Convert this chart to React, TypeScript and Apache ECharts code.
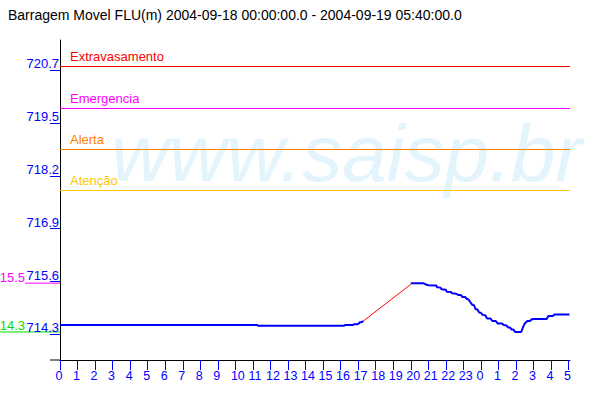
import React, { useEffect, useRef } from "react";
import * as echarts from "echarts";

const TITLE = "Barragem Movel FLU(m) 2004-09-18 00:00:00.0 - 2004-09-19 05:40:00.0";
const WATERMARK = "www.saisp.br";
const FONT = "'Liberation Sans', Arial, sans-serif";

// x axis: hours since 2004-09-18 00:00, labelled by hour of day
const hourTickLabels = [
  "0", "1", "2", "3", "4", "5", "6", "7", "8", "9", "10", "11", "12", "13", "14",
  "15", "16", "17", "18", "19", "20", "21", "22", "23", "0", "1", "2", "3", "4", "5",
];
// y axis ticks (labels as printed in the original, truncated)
const levelTickValues = [714.3, 715.6, 716.9, 718.2, 719.5, 720.8];
const levelTickLabels = ["714.3", "715.6", "716.9", "718.2", "719.5", "720.7"];

// threshold levels
const thresholdNames = ["Extravasamento", "Emergencia", "Alerta", "Atenção"];
const thresholdLevels = [720.89, 719.86, 718.86, 717.84];
const thresholdColors = ["#ff0000", "#ff00ff", "#ff8000", "#ffc800"];

// measured level before the data gap
const beforeHours = [0, 11.25, 11.3, 16.2, 16.25, 16.7, 16.75, 16.95, 17.05, 17.1, 17.2, 17.3];
const beforeLevels = [714.53, 714.53, 714.51, 714.51, 714.53, 714.53, 714.55, 714.55, 714.57, 714.6, 714.6, 714.63];

// interpolated (missing data) segment
const gapHours = [17.3, 20.0];
const gapLevels = [714.63, 715.53];

// measured level after the data gap
const afterHours = [
  20.0, 20.7, 20.8, 21.0, 21.45, 21.5, 21.7, 21.75, 22.0, 22.05, 22.3, 22.35, 22.6, 22.7,
  22.85, 22.95, 23.1, 23.2, 23.3, 23.4, 23.5, 23.6, 23.7, 23.8, 23.9, 24.0, 24.1, 24.25,
  24.35, 24.55, 24.65, 24.85, 24.95, 25.2, 25.3, 25.45, 25.55, 25.65, 25.75, 25.85, 25.95,
  26.3, 26.4, 26.5, 26.65, 26.8, 26.9, 27.05, 27.75, 27.85, 28.1, 28.2, 29.05,
];
const afterLevels = [
  715.56, 715.56, 715.54, 715.51, 715.5, 715.46, 715.45, 715.41, 715.4, 715.35, 715.34, 715.31, 715.3, 715.27,
  715.27, 715.22, 715.22, 715.17, 715.16, 715.09, 715.03, 715.02, 714.92, 714.91, 714.84, 714.83, 714.78, 714.77,
  714.69, 714.69, 714.63, 714.63, 714.57, 714.57, 714.53, 714.52, 714.47, 714.47, 714.42, 714.42, 714.36,
  714.36, 714.47, 714.57, 714.63, 714.63, 714.67, 714.68, 714.68, 714.75, 714.75, 714.79, 714.79,
];

const Y_MIN = 713.67;
const Y_MAX = 721.54;
const X_MAX = 29.08;

const zip = (xs: number[], ys: number[]) => xs.map((x, i) => [x, ys[i]]);

export default function App() {
  const ref = useRef<HTMLDivElement>(null);

  useEffect(() => {
    document.body.style.margin = "0";
    if (!ref.current) return;
    const chart = echarts.init(ref.current, undefined, { renderer: "svg" });

    const blue = "#0000ff";
    chart.setOption({
      animation: false,
      backgroundColor: "#ffffff",
      textStyle: { fontFamily: FONT },
      title: {
        text: TITLE,
        left: 3,
        top: 3,
        textStyle: { fontSize: 14, fontWeight: "normal", color: "#000000", fontFamily: FONT },
      },
      grid: { left: 60, right: 30, top: 40, bottom: 40, containLabel: false, outerBoundsMode: "none" },
      xAxis: {
        type: "value",
        min: 0,
        max: X_MAX,
        axisLine: { show: true, lineStyle: { color: "#000000", width: 1 } },
        axisTick: {
          show: true,
          length: 10,
          lineStyle: { color: blue, width: 1 },
          customValues: hourTickLabels.map((_, i) => i),
        },
        axisLabel: {
          customValues: hourTickLabels.map((_, i) => i),
          formatter: (v: number) => hourTickLabels[Math.round(v)] ?? "",
          color: blue,
          fontSize: 12.5,
          fontFamily: FONT,
          margin: 9,
          align: "left",
          padding: [0, 0, 0, -4.5],
          interval: 0,
          hideOverlap: false,
        },
        splitLine: { show: false },
      },
      yAxis: {
        type: "value",
        min: Y_MIN,
        max: Y_MAX,
        axisLine: { show: true, lineStyle: { color: "#000000", width: 1 } },
        axisTick: {
          show: true,
          length: 10,
          lineStyle: { color: blue, width: 1 },
          customValues: levelTickValues,
        },
        axisLabel: {
          customValues: levelTickValues,
          formatter: (v: number) => {
            const i = levelTickValues.findIndex((t) => Math.abs(t - v) < 1e-6);
            return i >= 0 ? levelTickLabels[i] : "";
          },
          color: blue,
          fontSize: 13,
          fontFamily: FONT,
          margin: 1,
          verticalAlign: "bottom",
          lineHeight: 13,
        },
        splitLine: { show: false },
      },
      series: [
        {
          name: "interpolado",
          type: "line",
          data: zip(gapHours, gapLevels),
          symbol: "none",
          lineStyle: { color: "#ff0000", width: 1 },
          z: 3,
          markLine: {
            silent: true,
            symbol: "none",
            animation: false,
            data: thresholdNames.map((name, i) => ({
              name,
              yAxis: thresholdLevels[i],
              lineStyle: { color: thresholdColors[i], width: 1, type: "solid" },
              label: {
                show: true,
                formatter: "{b}",
                position: "insideStartTop",
                color: thresholdColors[i],
                fontSize: 13,
                fontFamily: FONT,
                distance: [10, 3],
              },
            })),
          },
        },
        {
          name: "antes",
          type: "line",
          data: zip(beforeHours, beforeLevels),
          symbol: "none",
          lineStyle: { color: blue, width: 2 },
          z: 4,
        },
        {
          name: "depois",
          type: "line",
          data: zip(afterHours, afterLevels),
          symbol: "none",
          lineStyle: { color: blue, width: 2 },
          z: 4,
        },
      ],
    });

    const allLevels = [...beforeLevels, ...afterLevels];
    const maxLevel = Math.max(...allLevels);
    const minLevel = Math.min(...allLevels);
    const [gx0, gyBottom] = chart.convertToPixel({ gridIndex: 0 }, [0, Y_MIN]) as number[];
    const yMaxPx = (chart.convertToPixel({ gridIndex: 0 }, [0, maxLevel]) as number[])[1];
    const yMinPx = (chart.convertToPixel({ gridIndex: 0 }, [0, minLevel]) as number[])[1];
    const short = (v: number) => (Math.floor(v * 10 + 1e-6) / 10 - 700).toFixed(1);

    chart.setOption({
      graphic: [
        {
          type: "text",
          z: -10,
          silent: true,
          style: {
            text: WATERMARK,
            x: 111,
            y: 153,
            fill: "#e3f4fd",
            font: `italic 80px ${FONT}`,
            textAlign: "left",
            textVerticalAlign: "middle",
          },
        },
        {
          type: "line",
          shape: { x1: gx0 - 10, y1: gyBottom, x2: gx0, y2: gyBottom },
          style: { stroke: "#000000", lineWidth: 1 },
        },
        {
          type: "line",
          shape: { x1: 25, y1: yMaxPx, x2: gx0, y2: yMaxPx },
          style: { stroke: "#ff00ff", lineWidth: 1 },
        },
        {
          type: "text",
          style: {
            text: short(maxLevel),
            x: 25,
            y: yMaxPx - 6,
            fill: "#ff00ff",
            font: `13px ${FONT}`,
            textAlign: "right",
            textVerticalAlign: "middle",
          },
        },
        {
          type: "line",
          shape: { x1: 0, y1: yMinPx, x2: gx0, y2: yMinPx },
          style: { stroke: "#00dd00", lineWidth: 1 },
        },
        {
          type: "text",
          style: {
            text: short(minLevel),
            x: 25,
            y: yMinPx - 6,
            fill: "#00dd00",
            font: `13px ${FONT}`,
            textAlign: "right",
            textVerticalAlign: "middle",
          },
        },
      ],
    });

    return () => chart.dispose();
  }, []);

  return (
    <div
      ref={ref}
      style={{ position: "absolute", left: 0, top: 0, width: 600, height: 400, background: "#ffffff" }}
    />
  );
}
